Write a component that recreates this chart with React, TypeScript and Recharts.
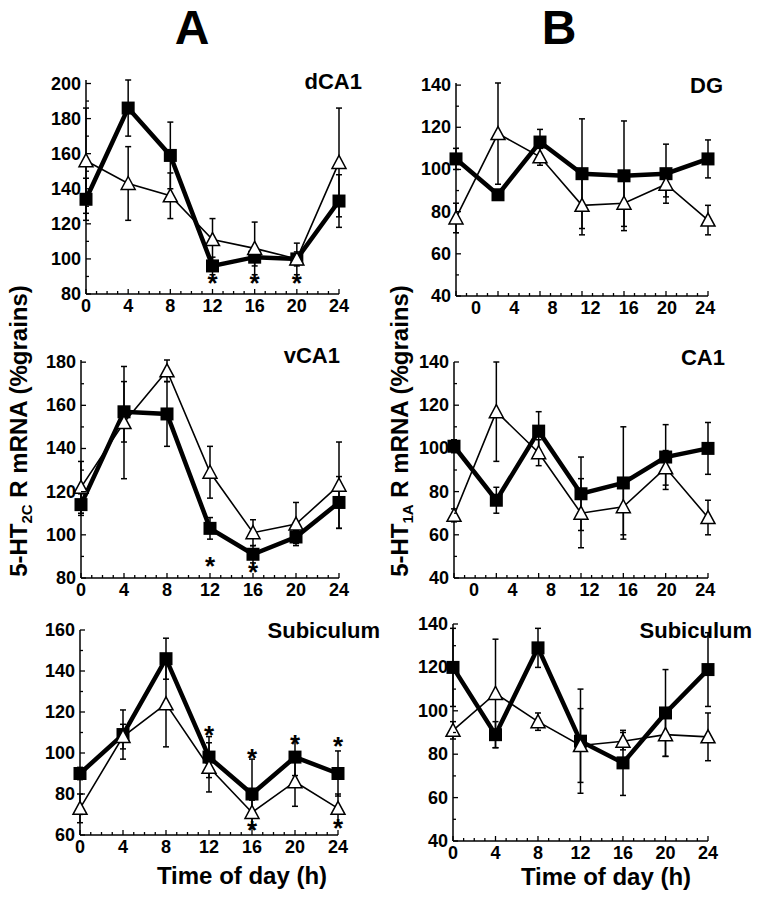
import React from 'react';
import { ComposedChart, Line, ErrorBar, XAxis, YAxis, Scatter } from 'recharts';

// sampling times (h)
const hours = [0, 4, 8, 12, 16, 20, 24];
const hourTicks = Array.from({ length: 25 }, (_, i) => i);

// A – 5-HT2C, dCA1
const dca1Sq = [134, 186, 159, 96, 101, 100, 133];
const dca1SqErr = [12, 16, 19, 5, 5, 4, 15];
const dca1Tri = [156, 143, 136, 111, 106, 100, 155];
const dca1TriErr = [30, 21, 13, 12, 15, 9, 31];
const dca1Stars = [{ t: 12, v: 89 }, { t: 16, v: 89 }, { t: 20, v: 89 }];

// A – vCA1
const vca1Sq = [114, 157, 156, 103, 91, 99, 115];
const vca1SqErr = [5, 14, 15, 5, 4, 3, 12];
const vca1Tri = [122, 152, 176, 129, 101, 105, 123];
const vca1TriErr = [12, 26, 5, 12, 6, 10, 20];
const vca1Stars = [{ t: 12, v: 88 }, { t: 16, v: 85 }];

// A – Subiculum
const subASq = [90, 109, 146, 98, 80, 98, 90];
const subASqErr = [3, 12, 10, 10, 17, 9, 11];
const subATri = [73, 108, 124, 93, 71, 86, 73];
const subATriErr = [7, 6, 21, 12, 6, 12, 7];
const subAStars = [
  { t: 12, v: 111 }, { t: 16, v: 100 }, { t: 20, v: 107 }, { t: 24, v: 106 },
  { t: 16, v: 65 }, { t: 24, v: 66 },
];

// B – 5-HT1A, DG
const dgSq = [105, 88, 113, 98, 97, 98, 105];
const dgSqErr = [5, 2, 6, 26, 26, 14, 9];
const dgTri = [77, 117, 106, 83, 84, 93, 76];
const dgTriErr = [7, 24, 4, 14, 11, 6, 7];

// B – CA1
const ca1Sq = [101, 76, 108, 79, 84, 96, 100];
const ca1SqErr = [3, 6, 9, 17, 26, 15, 12];
const ca1Tri = [69, 117, 98, 70, 73, 91, 68];
const ca1TriErr = [3, 23, 6, 16, 13, 8, 8];

// B – Subiculum
const subBSq = [120, 89, 129, 86, 76, 99, 119];
const subBSqErr = [18, 6, 9, 24, 15, 20, 17];
const subBTri = [91, 108, 95, 84, 86, 89, 88];
const subBTriErr = [4, 25, 4, 17, 4, 10, 11];

const YW = 60;
const MT = 14;
const MR = 16;
const XH = 30;
const FONT = "'Liberation Sans', Arial, Helvetica, sans-serif";

const Square = (props: any) => {
  const { cx, cy, index } = props;
  if (cx == null || cy == null) return <g key={`s-${index}`} />;
  return <rect key={`s-${index}`} x={cx - 6.5} y={cy - 6.5} width={13} height={13} fill="#000" />;
};

const Triangle = (props: any) => {
  const { cx, cy, index } = props;
  if (cx == null || cy == null) return <g key={`t-${index}`} />;
  return (
    <polygon
      key={`t-${index}`}
      points={`${cx},${cy - 7} ${cx - 7},${cy + 6} ${cx + 7},${cy + 6}`}
      fill="#fff"
      stroke="#000"
      strokeWidth={1.5}
    />
  );
};

// significance mark, glyph centred on the point
const Star = (props: any) => (
  <text x={props.cx} y={props.cy + 14} textAnchor="middle" fontSize={26} fontWeight="bold" fill="#000">
    *
  </text>
);

const XTick = ({ x, y, payload, shift }: any) => {
  const v = payload.value;
  const major = v % 4 === 0;
  const dx = shift ? 20 - 0.95 * v : 0;
  return (
    <g>
      <line x1={x} y1={y} x2={x} y2={y - (major ? 5 : 3)} stroke="#000" strokeWidth={1.3} />
      {major && (
        <text x={x + dx} y={y + 18} textAnchor="middle" fontSize={18} fontWeight="bold" fill="#000">
          {v}
        </text>
      )}
    </g>
  );
};

const YTick = ({ x, y, payload }: any) => {
  const v = payload.value;
  const major = v % 20 === 0;
  return (
    <g>
      <line x1={x} y1={y} x2={x + (major ? 5 : 3)} y2={y} stroke="#000" strokeWidth={1.3} />
      {major && (
        <text x={x - 5} y={y + 6} textAnchor="end" fontSize={18} fontWeight="bold" fill="#000">
          {v}
        </text>
      )}
    </g>
  );
};

function Panel(p: any) {
  const rows = hours.map((t, i) => ({
    t,
    sq: p.sq[i],
    sqErr: p.sqErr[i],
    tri: p.tri[i],
    triErr: p.triErr[i],
  }));
  const yTicks: number[] = [];
  for (let v = p.domain[0]; v <= p.domain[1]; v += 10) yTicks.push(v);
  const w = p.x1 - p.x0 + YW + MR;
  const h = p.yBot - p.yTop + MT + XH;
  return (
    <div style={{ position: 'absolute', left: p.x0 - YW, top: p.yTop - MT }}>
      <ComposedChart width={w} height={h} data={rows} margin={{ top: MT, right: MR, left: 0, bottom: 0 }}>
        <XAxis
          dataKey="t"
          type="number"
          domain={[0, 24]}
          ticks={hourTicks}
          interval={0}
          tickSize={0}
          tickMargin={0}
          tickLine={false}
          height={XH}
          axisLine={{ stroke: '#000', strokeWidth: 1.5 }}
          tick={(props: any) => <XTick {...props} shift={p.shift} />}
        />
        <YAxis
          type="number"
          domain={p.domain}
          ticks={yTicks}
          interval={0}
          tickSize={0}
          tickMargin={0}
          tickLine={false}
          width={YW}
          axisLine={{ stroke: '#000', strokeWidth: 1.5 }}
          tick={(props: any) => <YTick {...props} />}
        />
        <Line dataKey="sq" stroke="#000" strokeWidth={4.5} dot={Square} activeDot={false} isAnimationActive={false}>
          <ErrorBar dataKey="sqErr" width={3} stroke="#000" strokeWidth={1.5} direction="y" />
        </Line>
        <Line dataKey="tri" stroke="#000" strokeWidth={1.6} dot={Triangle} activeDot={false} isAnimationActive={false}>
          <ErrorBar dataKey="triErr" width={3} stroke="#000" strokeWidth={1.5} direction="y" />
        </Line>
        {p.stars && (
          <Scatter data={p.stars} dataKey="v" shape={Star} isAnimationActive={false} />
        )}
      </ComposedChart>
    </div>
  );
}

const txt = { fontFamily: FONT, fontWeight: 'bold' as const, fill: '#000' };

export default function App() {
  return (
    <div style={{ position: 'absolute', left: 0, top: 0, width: 767, height: 900, background: '#fff', fontFamily: FONT }}>
      <Panel x0={86} x1={339} yTop={80} yBot={294} domain={[80, 200]}
        sq={dca1Sq} sqErr={dca1SqErr} tri={dca1Tri} triErr={dca1TriErr} stars={dca1Stars} />
      <Panel x0={81} x1={339} yTop={360} yBot={578} domain={[80, 180]}
        sq={vca1Sq} sqErr={vca1SqErr} tri={vca1Tri} triErr={vca1TriErr} stars={vca1Stars} />
      <Panel x0={80} x1={338} yTop={630} yBot={835} domain={[60, 160]}
        sq={subASq} sqErr={subASqErr} tri={subATri} triErr={subATriErr} stars={subAStars} />
      <Panel x0={456} x1={708} yTop={83} yBot={296} domain={[40, 140]} shift
        sq={dgSq} sqErr={dgSqErr} tri={dgTri} triErr={dgTriErr} />
      <Panel x0={454} x1={708} yTop={362} yBot={578} domain={[40, 140]} shift
        sq={ca1Sq} sqErr={ca1SqErr} tri={ca1Tri} triErr={ca1TriErr} />
      <Panel x0={453} x1={708} yTop={624} yBot={841} domain={[40, 140]}
        sq={subBSq} sqErr={subBSqErr} tri={subBTri} triErr={subBTriErr} />

      <svg width={767} height={900} style={{ position: 'absolute', left: 0, top: 0, pointerEvents: 'none' }}>
        <text x={192} y={44} textAnchor="middle" fontSize={48} {...txt}>A</text>
        <text x={559} y={44} textAnchor="middle" fontSize={48} {...txt}>B</text>

        <text x={362} y={89} textAnchor="end" fontSize={22} {...txt}>dCA1</text>
        <text x={340} y={363} textAnchor="end" fontSize={22} {...txt}>vCA1</text>
        <text x={380} y={638} textAnchor="end" fontSize={22} {...txt}>Subiculum</text>
        <text x={723} y={93} textAnchor="end" fontSize={22} {...txt}>DG</text>
        <text x={725} y={365} textAnchor="end" fontSize={22} {...txt}>CA1</text>
        <text x={752} y={638} textAnchor="end" fontSize={22} {...txt}>Subiculum</text>

        <text x={242} y={884} textAnchor="middle" fontSize={24} {...txt}>Time of day (h)</text>
        <text x={606} y={885} textAnchor="middle" fontSize={24} {...txt}>Time of day (h)</text>

        <text x={27} y={431} textAnchor="middle" fontSize={24} transform="rotate(-90 27 431)" {...txt}>
          5-HT<tspan fontSize={15} dy={5}>2C</tspan><tspan dy={-5}> R mRNA (%grains)</tspan>
        </text>
        <text x={408} y={431} textAnchor="middle" fontSize={24} transform="rotate(-90 408 431)" {...txt}>
          5-HT<tspan fontSize={15} dy={5}>1A</tspan><tspan dy={-5}> R mRNA (%grains)</tspan>
        </text>
      </svg>
    </div>
  );
}
